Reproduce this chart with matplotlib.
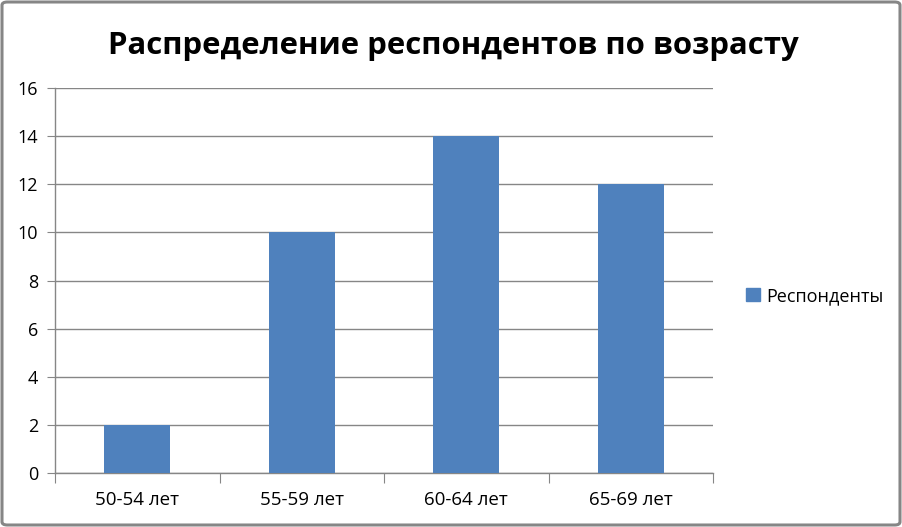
import matplotlib
matplotlib.use("Agg")
import matplotlib.pyplot as plt
from matplotlib.patches import FancyBboxPatch, Rectangle

categories = ["50-54 лет", "55-59 лет", "60-64 лет", "65-69 лет"]
values = [2, 10, 14, 12]
series_name = "Респонденты"
title = "Распределение респондентов по возрасту"
yticks = [0, 2, 4, 6, 8, 10, 12, 14, 16]

W, H = 902, 527
fig = plt.figure(figsize=(W / 100, H / 100), dpi=100)
font = "Open Sans"

ax = fig.add_axes([55 / W, 1 - 473 / H, (713 - 55) / W, (473 - 88) / H])
bar_color = "#4F81BD"
x = list(range(len(categories)))
ax.bar(x, values, width=0.4, color=bar_color, zorder=3, label=series_name)
ax.set_xlim(-0.5, len(categories) - 0.5)
ax.set_ylim(0, 16)
ax.set_yticks(yticks)
ax.set_yticklabels([str(v) for v in yticks], fontsize=13, family=font)
ax.yaxis.grid(True, color="#868686", linewidth=1.0, zorder=0)
ax.set_axisbelow(True)
ax.tick_params(axis="y", length=6, color="#868686", pad=6)

# x axis: category labels centered, ticks at boundaries
ax.set_xticks([i - 0.5 for i in range(len(categories) + 1)])
ax.set_xticklabels([])
ax.set_xticks(x, minor=True)
ax.set_xticklabels(categories, minor=True, fontsize=13.5, family=font)
ax.tick_params(axis="x", which="major", length=7, color="#868686")
ax.tick_params(axis="x", which="minor", length=0, pad=13)

for s in ["top", "right"]:
    ax.spines[s].set_visible(False)
for s in ["left", "bottom"]:
    ax.spines[s].set_color("#868686")
    ax.spines[s].set_linewidth(1.0)

fig.text(453 / W, 1 - 46 / H, title, ha="center", va="center",
         fontsize=22.4, fontweight="bold", family=font)

# legend
leg = fig.legend(handles=[Rectangle((0, 0), 1, 1, color=bar_color)], labels=[series_name],
                 loc="center left", bbox_to_anchor=(746 / W, 1 - 296 / H), frameon=False,
                 prop={"family": font, "size": 13}, handlelength=0.75, handleheight=0.75,
                 handletextpad=0.35, borderpad=0, borderaxespad=0)

# figure border
border = FancyBboxPatch((2 / W, 2 / H), (W - 4) / W, (H - 4) / H,
                        boxstyle="round,pad=0,rounding_size=0.006",
                        transform=fig.transFigure, fill=False,
                        edgecolor="#868686", linewidth=2.2)
fig.patches.append(border)

fig.savefig("out.png", dpi=100, facecolor="white")
